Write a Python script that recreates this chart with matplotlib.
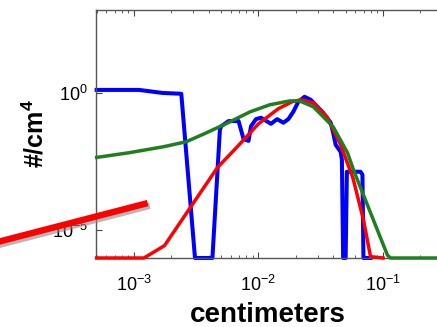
import numpy as np
import matplotlib
matplotlib.use("Agg")
import matplotlib.pyplot as plt
import matplotlib.patheffects as pe
from matplotlib.lines import Line2D
from matplotlib.ticker import LogLocator, NullLocator, FixedLocator

plt.rcParams['font.family'] = ['Liberation Sans', 'DejaVu Sans']
plt.rcParams['mathtext.default'] = 'regular'

# measured curve (log10 of size in cm, log10 of #/cm^4)
blue_logx = [-3.30, -2.96, -2.77, -2.62, -2.51, -2.37, -2.31, -2.30, -2.24, -2.16, -2.12,
             -2.08, -2.06, -2.02, -1.98, -1.90, -1.85, -1.80, -1.76, -1.72, -1.68, -1.63,
             -1.58, -1.48, -1.42, -1.40, -1.38, -1.34, -1.33, -1.32, -1.30, -1.29,
             -1.18, -1.165, -1.157, -1.10]
blue_logy = [0.10, 0.10, -0.01, -0.04, -6.0, -6.0, -1.35, -1.22, -1.03, -1.03, -1.68,
             -1.75, -1.22, -0.96, -0.91, -1.13, -0.96, -1.09, -0.96, -0.69, -0.33, -0.15,
             -0.26, -0.73, -1.09, -1.46, -1.89, -2.15, -2.44, -6.0, -6.0, -2.87,
             -2.87, -2.98, -6.0, -6.0]

# red fit
red_logx = [-3.30, -2.92, -2.755, -2.33, -2.17, -2.00, -1.84, -1.73, -1.66, -1.56, -1.45,
            -1.34, -1.24, -1.157, -1.10, -1.00]
red_logy = [-6.0, -6.0, -5.55, -2.72, -1.96, -1.13, -0.58, -0.33, -0.26, -0.37, -0.88,
            -1.89, -3.12, -4.61, -5.95, -6.0]

# green fit
green_logx = [-3.30, -3.04, -2.76, -2.58, -2.42, -2.23, -2.07, -1.91, -1.75, -1.67, -1.56,
              -1.40, -1.285, -1.237, -1.10, -0.964, -0.94, -0.30]
green_logy = [-2.35, -2.18, -1.96, -1.78, -1.46, -1.06, -0.70, -0.44, -0.30, -0.30, -0.51,
              -1.24, -2.18, -2.80, -4.36, -5.90, -6.0, -6.0]

xticks = [1e-3, 1e-2, 1e-1]
yticks = [1e-5, 1e0]

# pointer drawn over the figure (figure fraction)
pointer_x = [-0.02, 0.338]
pointer_y = [0.255, 0.379]

fig = plt.figure(figsize=(4.37, 3.27), dpi=100)
ax = fig.add_axes([0.2197, 0.211, 0.8547, 0.7584])

ax.plot(10 ** np.array(blue_logx), 10 ** np.array(blue_logy), color='#0000ff', lw=2.9, clip_on=False, zorder=2)
ax.plot(10 ** np.array(red_logx), 10 ** np.array(red_logy), color='#ff0000', lw=2.5, clip_on=False, zorder=3)
ax.plot(10 ** np.array(green_logx), 10 ** np.array(green_logy), color='#1f7f1f', lw=2.5, clip_on=False, zorder=4)

ax.set_xscale('log')
ax.set_yscale('log')
ax.set_xlim(10 ** -3.305, 10 ** -0.305)
ax.set_ylim(1e-6, 1e3)

ax.xaxis.set_major_locator(FixedLocator(xticks))
ax.xaxis.set_minor_locator(LogLocator(base=10, subs=np.arange(2, 10)))
ax.yaxis.set_major_locator(FixedLocator(yticks))
ax.yaxis.set_minor_locator(NullLocator())

ax.tick_params(which='both', direction='in', top=True, right=False, color='#444444')
ax.tick_params(which='major', length=4, labelsize=13)
ax.tick_params(which='minor', length=2.5)
ax.tick_params(axis='x', pad=12)
ax.tick_params(axis='y', pad=6)
for s in ax.spines.values():
    s.set_color('#555555')
    s.set_linewidth(1.0)

ax.set_xlabel('centimeters', fontsize=20, fontweight='bold')
ax.xaxis.set_label_coords(0.459, -0.178)
ax.set_ylabel('#/cm$^{4}$', fontsize=18, fontweight='bold')
ax.yaxis.set_label_coords(-0.126, 0.5)

pointer = Line2D(pointer_x, pointer_y, transform=fig.transFigure, color='#ff0000', lw=4.6,
                 solid_capstyle='butt',
                 path_effects=[pe.SimpleLineShadow(offset=(1.5, -2.0), shadow_color='#888888', alpha=0.6),
                               pe.Normal()])
fig.add_artist(pointer)

fig.savefig('out.png', dpi=100)
